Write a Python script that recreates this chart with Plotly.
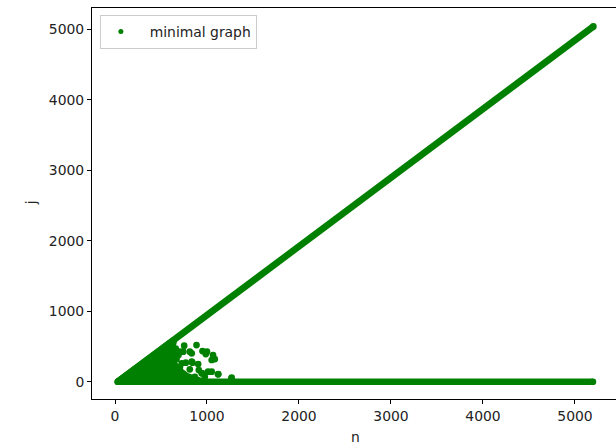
import plotly.graph_objects as go

GREEN = "#008000"

# diagonal band (dense points j ~ n)
diag_n = [30, 5200]
diag_j = [0, 5040]

# horizontal band (j = 0)
flat_n = [30, 5195]
flat_j = [0, 0]

# dense triangular cloud near the origin (outline)
cloud_n = [30, 640, 620, 640, 630, 680, 780, 950, 30]
cloud_j = [0, 590, 480, 380, 280, 180, 80, 0, 0]

# scattered individual points
pts_n = [752, 886, 705, 813, 951, 987, 1066, 1085, 597, 669, 770, 842, 904, 578,
         705, 813, 911, 1012, 951, 1120, 632, 741, 868, 976, 1265, 1000, 1051,
         1123, 1268, 598, 598, 616, 725, 834, 942, 1051, 742, 834, 660, 690, 560]
pts_j = [511, 520, 426, 426, 435, 393, 379, 322, 346, 322, 270, 270, 251, 237,
         204, 176, 166, 142, 119, 105, 119, 95, 71, 71, 43, 426, 308,
         109, 57, 379, 261, 142, 261, 284, 119, 142, 426, 403, 470, 380, 420]

x_ticks = [0, 1000, 2000, 3000, 4000, 5000]
y_ticks = [0, 1000, 2000, 3000, 4000, 5000]

MS = 6.7
fig = go.Figure()
fig.add_trace(go.Scatter(x=cloud_n, y=cloud_j, mode="lines", fill="toself",
                         fillcolor=GREEN, line=dict(color=GREEN, width=MS),
                         showlegend=False, hoverinfo="skip"))
fig.add_trace(go.Scatter(x=diag_n, y=diag_j, mode="lines+markers",
                         line=dict(color=GREEN, width=MS),
                         marker=dict(color=GREEN, size=MS), showlegend=False))
fig.add_trace(go.Scatter(x=flat_n, y=flat_j, mode="lines+markers",
                         line=dict(color=GREEN, width=MS),
                         marker=dict(color=GREEN, size=MS), showlegend=False))
fig.add_trace(go.Scatter(x=pts_n, y=pts_j, mode="markers",
                         marker=dict(color=GREEN, size=MS), showlegend=False))
# legend entry
fig.add_trace(go.Scatter(x=[None], y=[None], mode="markers", name="  minimal graph",
                         marker=dict(color=GREEN, size=5), showlegend=True))

axis_common = dict(showgrid=False, zeroline=False, showline=True, linecolor="black",
                   linewidth=1, ticks="outside", ticklen=4, tickcolor="black",
                   tickfont=dict(family="DejaVu Sans", size=13.9, color="#222"))
fig.update_layout(
    width=616, height=444,
    margin=dict(l=92, r=0, t=8, b=45),
    plot_bgcolor="white", paper_bgcolor="white",
    font=dict(family="DejaVu Sans", color="#222"),
    xaxis=dict(range=[-250, 5446], tickvals=x_ticks, mirror=True, **axis_common),
    yaxis=dict(range=[-245, 5302], tickvals=y_ticks, **axis_common),
    legend=dict(x=0.015, y=0.982, xanchor="left", yanchor="top",
                bordercolor="#cccccc", borderwidth=1, bgcolor="rgba(255,255,255,0.8)",
                tracegroupgap=0, itemwidth=30,
                font=dict(family="DejaVu Sans", size=13.9, color="#222")),
    annotations=[
        dict(text="n", xref="paper", yref="paper", x=0.502, y=-0.097,
             showarrow=False, xanchor="center", yanchor="middle",
             font=dict(family="DejaVu Sans", size=13.9, color="#222")),
        dict(text="j", xref="paper", yref="paper", x=-0.116, y=0.501,
             showarrow=False, xanchor="center", yanchor="middle", textangle=-90,
             font=dict(family="DejaVu Sans", size=13.9, color="#222")),
    ],
)
fig.write_html("out.html")
